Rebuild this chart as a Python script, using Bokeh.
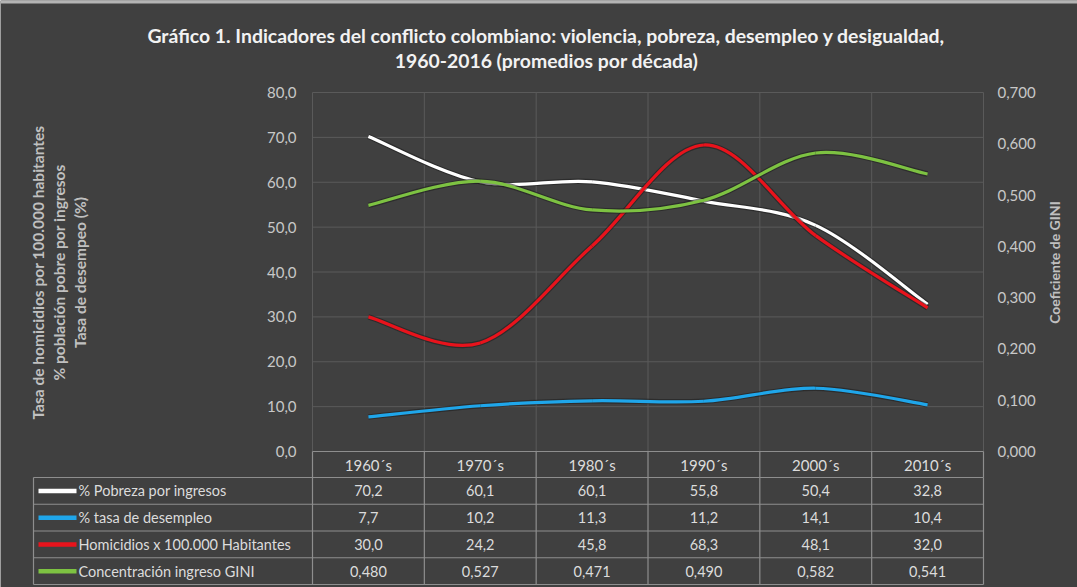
import numpy as np
from bokeh.plotting import figure
from bokeh.models import (Range1d, LinearAxis, FixedTicker, CustomJSTickFormatter,
                          Label, ColumnDataSource)
from bokeh.core.properties import value
from bokeh.embed import file_html
from bokeh.resources import INLINE

# ---------------- data ----------------
decades = ["1960´s", "1970´s", "1980´s", "1990´s", "2000´s", "2010´s"]
pobreza = [70.2, 60.1, 60.1, 55.8, 50.4, 32.8]
desempleo = [7.7, 10.2, 11.3, 11.2, 14.1, 10.4]
homicidios = [30.0, 24.2, 45.8, 68.3, 48.1, 32.0]
gini = [0.480, 0.527, 0.471, 0.490, 0.582, 0.541]
series_names = ["% Pobreza por ingresos", "% tasa de desempleo",
                "Homicidios x 100.000 Habitantes", "Concentración ingreso GINI"]
left_ticks = [0, 10, 20, 30, 40, 50, 60, 70, 80]
right_ticks = [0.0, 0.1, 0.2, 0.3, 0.4, 0.5, 0.6, 0.7]
title_lines = ["Gráfico 1. Indicadores del conflicto colombiano: violencia, pobreza, desempleo y desigualdad,",
               "1960-2016 (promedios por década)"]
left_titles = ["Tasa de homicidios por 100.000 habitantes",
               "% población pobre por ingresos",
               "Tasa de desempeo (%)"]
right_title = "Coeficiente de GINI"

# ---------------- style ----------------
BG = "#404040"
GRID = "#5a5a5a"
BORDER = "#8e8e8e"
TXT = "#dcdcdc"
TICK = "#c8c8c8"
TITLE = "#f2f2f2"
AXT = "#c0c0c0"
COLORS = ["#ffffff", "#1fa6ea", "#e8131c", "#7dc242"]
FONT = "Lato"

W, H = 1077, 587
PXX = 671 / 6          # px per category
PXY = 359 / 80         # px per left-axis unit
GR = 0.7 / 80          # right-axis units per left-axis unit


def dx(px):            # page x (pixels) -> category units
    return (px - 312) / PXX


def dy(py):            # page y (pixels) -> left-axis units
    return (451 - py) / PXY


centers = [i + 0.5 for i in range(len(decades))]
bounds = list(range(len(decades) + 1))


def smooth(xs, ys, t=1 / 6):
    n = len(xs)
    out = dict(x0=[], y0=[], x1=[], y1=[], cx0=[], cy0=[], cx1=[], cy1=[])
    for i in range(n - 1):
        xp, yp = (xs[i - 1], ys[i - 1]) if i > 0 else (xs[i], ys[i])
        xn, yn = (xs[i + 2], ys[i + 2]) if i + 2 < n else (xs[i + 1], ys[i + 1])
        out["x0"].append(xs[i]); out["y0"].append(ys[i])
        out["x1"].append(xs[i + 1]); out["y1"].append(ys[i + 1])
        out["cx0"].append(xs[i] + (xs[i + 1] - xp) * t)
        out["cy0"].append(ys[i] + (ys[i + 1] - yp) * t)
        out["cx1"].append(xs[i + 1] - (xn - xs[i]) * t)
        out["cy1"].append(ys[i + 1] - (yn - ys[i]) * t)
    return ColumnDataSource(out)


p = figure(width=W, height=H, x_range=Range1d(dx(0), dx(W)),
           y_range=Range1d(dy(H), dy(0)),
           output_backend="svg", toolbar_location=None,
           x_axis_location=None, y_axis_location=None,
           min_border_left=0, min_border_right=0, min_border_top=0, min_border_bottom=0,
           background_fill_color=BG, border_fill_color=BG, outline_line_color=None)
p.grid.grid_line_color = None
p.extra_y_ranges = {"gini": Range1d(dy(H) * GR, dy(0) * GR)}

# thin light strip along the top edge of the picture
p.segment(x0=[dx(0)], y0=[dy(1.5)], x1=[dx(W)], y1=[dy(1.5)], line_color="#b4b4b4", line_width=3)

la = LinearAxis(ticker=FixedTicker(ticks=left_ticks), fixed_location=0,
                formatter=CustomJSTickFormatter(code="return tick.toFixed(1).replace('.', ',')"),
                axis_line_color=None, major_tick_line_color=None, minor_tick_line_color=None,
                major_tick_out=0, major_tick_in=0, major_label_standoff=16,
                major_label_text_color=TICK, major_label_text_font=FONT,
                major_label_text_font_size="15px")
p.add_layout(la, "left")
ra = LinearAxis(y_range_name="gini", ticker=FixedTicker(ticks=right_ticks), fixed_location=6,
                formatter=CustomJSTickFormatter(code="return tick.toFixed(3).replace('.', ',')"),
                axis_line_color=None, major_tick_line_color=None, minor_tick_line_color=None,
                major_tick_out=0, major_tick_in=0, major_label_standoff=14,
                major_label_text_color=TICK, major_label_text_font=FONT,
                major_label_text_font_size="15px")
p.add_layout(ra, "right")

# gridlines of the plot area
gt = left_ticks[1:]
p.segment(x0=[0] * len(gt), y0=gt, x1=[6] * len(gt), y1=gt, line_color=GRID, line_width=1)
p.segment(x0=bounds, y0=[0] * len(bounds), x1=bounds, y1=[80] * len(bounds),
          line_color=GRID, line_width=1)

# ---------------- data table ----------------
hdr_bot = dy(477)
row_lines = [dy(477 + 26.75 * k) for k in range(len(series_names) + 1)]
XL = dx(33)
p.segment(x0=bounds, y0=[0] * len(bounds), x1=bounds, y1=[hdr_bot] * len(bounds),
          line_color=BORDER, line_width=1.2)
p.segment(x0=[0], y0=[0], x1=[6], y1=[0], line_color=BORDER, line_width=1.2)
p.segment(x0=[XL] * len(row_lines), y0=row_lines, x1=[6] * len(row_lines), y1=row_lines,
          line_color=BORDER, line_width=1.2)
vx = [XL] + bounds
p.segment(x0=vx, y0=[row_lines[0]] * len(vx), x1=vx, y1=[row_lines[-1]] * len(vx),
          line_color=BORDER, line_width=1.2)
p.text(x=centers, y=[hdr_bot / 2] * len(centers), text=decades, text_align="center",
       text_baseline="middle", text_color=TXT, text_font=value(FONT),
       text_font_size=value("15px"))

rc = [(row_lines[k] + row_lines[k + 1]) / 2 for k in range(len(series_names))]
p.segment(x0=[dx(38)] * len(rc), y0=rc, x1=[dx(76)] * len(rc), y1=rc,
          line_color=COLORS, line_width=4.5)
p.text(x=[dx(78)] * len(rc), y=rc, text=series_names, text_align="left",
       text_baseline="middle", text_color=TXT, text_font=value(FONT),
       text_font_size=value("14.5px"))

fmt1 = lambda v: f"{v:.1f}".replace(".", ",")
fmt3 = lambda v: f"{v:.3f}".replace(".", ",")
table_rows = [[fmt1(v) for v in pobreza], [fmt1(v) for v in desempleo],
              [fmt1(v) for v in homicidios], [fmt3(v) for v in gini]]
for r, labels in enumerate(table_rows):
    p.text(x=centers, y=[rc[r]] * len(centers), text=labels, text_align="center",
           text_baseline="middle", text_color=TXT, text_font=value(FONT),
           text_font_size=value("14.5px"))

# ---------------- curves ----------------
for vals, col, rng in [(pobreza, COLORS[0], "default"), (desempleo, COLORS[1], "default"),
                       (homicidios, COLORS[2], "default"), (gini, COLORS[3], "gini")]:
    src = smooth(centers, vals)
    p.bezier(x0="x0", y0="y0", x1="x1", y1="y1", cx0="cx0", cy0="cy0", cx1="cx1", cy1="cy1",
             source=src, line_color="#1c1c1c", line_alpha=0.55, line_width=5.5, y_range_name=rng)
    p.bezier(x0="x0", y0="y0", x1="x1", y1="y1", cx0="cx0", cy0="cy0", cx1="cx1", cy1="cy1",
             source=src, line_color=col, line_width=3.2, y_range_name=rng)

# ---------------- titles ----------------
for txt, yref in zip(title_lines, [35, 60]):
    p.add_layout(Label(x=dx(546), y=dy(yref), text=txt,
                       text_align="center", text_baseline="middle", text_color=TITLE,
                       text_font=FONT, text_font_style="bold", text_font_size="19.4px"))
for txt, xref in zip(left_titles, [37, 58, 79]):
    p.add_layout(Label(x=dx(xref), y=dy(272), text=txt, angle=np.pi / 2,
                       text_align="center", text_baseline="middle", text_color=AXT,
                       text_font=FONT, text_font_style="bold", text_font_size="15.5px"))
p.add_layout(Label(x=dx(1054), y=dy(262), text=right_title, angle=np.pi / 2,
                   text_align="center", text_baseline="middle", text_color=AXT,
                   text_font=FONT, text_font_style="bold", text_font_size="14px"))

open("out.html", "w").write(file_html(p, INLINE))
